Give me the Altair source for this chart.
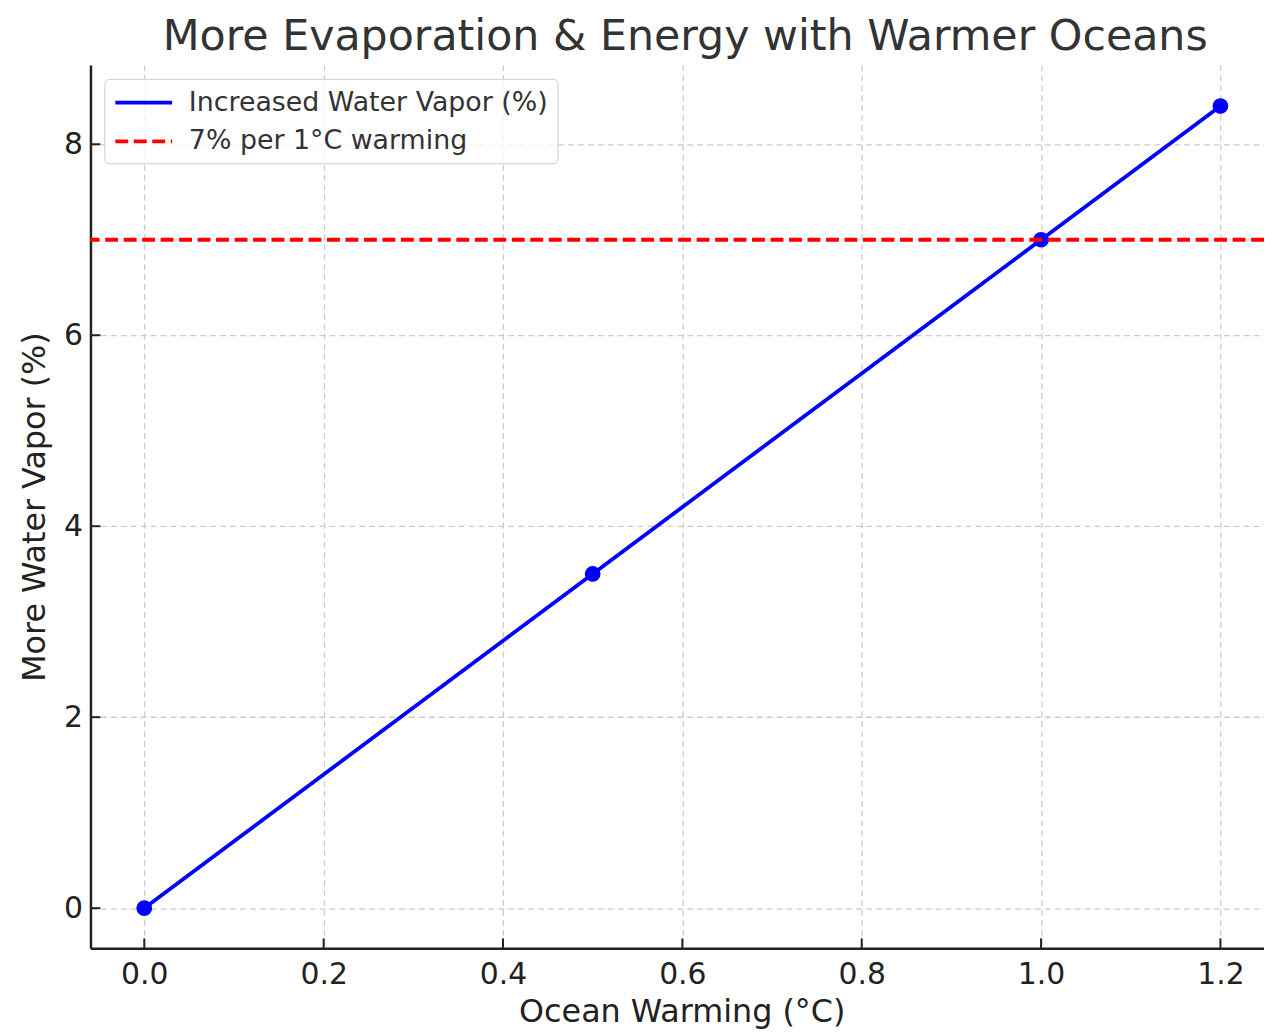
import altair as alt
import pandas as pd

# ---- data ----
warming = [0.0, 0.5, 1.0, 1.2]
vapor = [0.0, 3.5, 7.0, 8.4]
ref_value = [7.0]
series_names = ["Increased Water Vapor (%)", "7% per 1°C warming"]
x_ticks = [0.0, 0.2, 0.4, 0.6, 0.8, 1.0, 1.2]
y_ticks = [0, 2, 4, 6, 8]
x_domain = [-0.06, 1.2486]
y_domain = [-0.42, 8.831]

FONT = "DejaVu Sans"

line_df = pd.DataFrame({"x": warming, "y": vapor, "series": series_names[0]})
ref_df = pd.DataFrame({"y": ref_value, "series": [series_names[1]]})
xt_df = pd.DataFrame({"x": x_ticks, "y": y_domain[0], "y2": y_domain[0] + 0.104})
yt_df = pd.DataFrame({"y": y_ticks, "x": x_domain[0], "x2": x_domain[0] + 0.0111})

xs = alt.Scale(domain=x_domain, nice=False, zero=False)
ys = alt.Scale(domain=y_domain, nice=False, zero=False)
color_scale = alt.Scale(domain=series_names, range=["#0000ff", "#ff0000"])
dash_scale = alt.Scale(domain=series_names, range=[[1, 0], [13, 5.6]])

legend = alt.Legend(
    title=None,
    orient="top-left",
    offset=14,
    symbolType="M-1,0H3.4",
    symbolSize=676,
    symbolStrokeWidth=3.8,
    labelOffset=46,
    labelFontSize=27,
    labelFont=FONT,
    labelColor="#333333",
    labelLimit=0,
    rowPadding=11,
    padding=9,
    strokeColor="#cccccc",
    fillColor="rgba(255,255,255,0.8)",
    cornerRadius=5,
)

xaxis = alt.Axis(
    title="Ocean Warming (°C)", values=x_ticks, format=".1f",
    titleX=595, titlePadding=8, labelPadding=11,
)
yaxis = alt.Axis(
    title="More Water Vapor (%)", values=y_ticks, format="d",
    titlePadding=12, labelPadding=8,
)

X = alt.X("x:Q", scale=xs, axis=xaxis)
Y = alt.Y("y:Q", scale=ys, axis=yaxis)

line = alt.Chart(line_df).mark_line(strokeWidth=3.8).encode(
    x=X, y=Y,
    color=alt.Color("series:N", scale=color_scale, legend=legend),
    strokeDash=alt.StrokeDash("series:N", scale=dash_scale, legend=legend),
)
points = alt.Chart(line_df).mark_point(filled=True, size=250, opacity=1, color="#0000ff").encode(
    x=X, y=Y,
)
ref = alt.Chart(ref_df).mark_rule(strokeWidth=3.8).encode(
    y=Y,
    color=alt.Color("series:N", scale=color_scale, legend=legend),
    strokeDash=alt.StrokeDash("series:N", scale=dash_scale, legend=legend),
)
xticks = alt.Chart(xt_df).mark_rule(color="#222222", strokeWidth=2).encode(
    x=X, y=Y, y2="y2:Q",
)
yticks = alt.Chart(yt_df).mark_rule(color="#222222", strokeWidth=2).encode(
    y=Y, x=X, x2="x2:Q",
)

chart = alt.layer(line, points, ref, xticks, yticks).properties(
    width=1181,
    height=889,
    autosize=alt.AutoSizeParams(type="none"),
    padding={"left": 83, "top": 54, "right": 0, "bottom": 82},
    title=alt.Title(
        "More Evaporation & Energy with Warmer Oceans",
        fontSize=43, color="#333333", font=FONT, fontWeight="normal",
        anchor="middle", baseline="alphabetic", offset=14, dx=8, dy=42,
        frame="group",
    ),
).configure(
    font=FONT,
).configure_view(
    stroke=None,
).configure_axis(
    grid=True,
    gridColor="#cccccc",
    gridDash=[6, 4],
    gridWidth=1.3,
    domainColor="#222222",
    domainWidth=2.5,
    ticks=False,
    tickSize=0,
    labelFont=FONT,
    labelFontSize=30,
    labelColor="#222222",
    titleFont=FONT,
    titleFontSize=32,
    titleFontWeight="normal",
    titleColor="#222222",
)

chart.save("out.html", embed_options={"renderer": "svg", "actions": False})
